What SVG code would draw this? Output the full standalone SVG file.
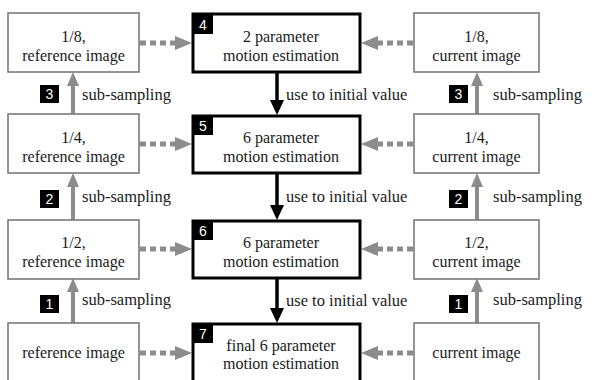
<svg xmlns="http://www.w3.org/2000/svg" width="592" height="380" viewBox="0 0 592 380" font-family="Liberation Serif" font-size="16">
<defs>
  <polygon id="hr" points="-17,-7 0,0 -17,7" fill="#8c8c8c"/>
  <polygon id="hl" points="17,-7 0,0 17,7" fill="#8c8c8c"/>
  <polygon id="hu" points="-6,14 0,0 6,14" fill="#8c8c8c"/>
  <polygon id="hd" points="-7,-15 0,0 7,-15" fill="#000"/>
</defs>
<rect width="592" height="380" fill="#fff"/>
<g id="connectors">
  <g stroke="#8c8c8c" stroke-width="5" stroke-dasharray="6 4" fill="none">
    <line x1="140" y1="43" x2="176" y2="43"/><line x1="140" y1="144" x2="176" y2="144"/>
    <line x1="140" y1="249" x2="176" y2="249"/><line x1="140" y1="353" x2="176" y2="353"/>
    <line x1="413" y1="43" x2="377" y2="43"/><line x1="413" y1="144" x2="377" y2="144"/>
    <line x1="413" y1="249" x2="377" y2="249"/><line x1="413" y1="353" x2="377" y2="353"/>
  </g>
  <use href="#hr" x="192" y="43"/><use href="#hr" x="192" y="144"/><use href="#hr" x="192" y="249"/><use href="#hr" x="192" y="353"/>
  <use href="#hl" x="361" y="43"/><use href="#hl" x="361" y="144"/><use href="#hl" x="361" y="249"/><use href="#hl" x="361" y="353"/>
  <g stroke="#8c8c8c" stroke-width="4">
    <line x1="73" y1="115" x2="73" y2="84"/><line x1="73" y1="220" x2="73" y2="185"/><line x1="73" y1="323" x2="73" y2="290"/>
    <line x1="477" y1="115" x2="477" y2="84"/><line x1="477" y1="220" x2="477" y2="185"/><line x1="477" y1="323" x2="477" y2="290"/>
  </g>
  <use href="#hu" x="73" y="72"/><use href="#hu" x="73" y="173"/><use href="#hu" x="73" y="278"/>
  <use href="#hu" x="477" y="72"/><use href="#hu" x="477" y="173"/><use href="#hu" x="477" y="278"/>
  <g stroke="#000" stroke-width="3.5">
    <line x1="277" y1="73" x2="277" y2="102"/><line x1="277" y1="174" x2="277" y2="207"/><line x1="277" y1="279" x2="277" y2="310"/>
  </g>
  <use href="#hd" x="277" y="115"/><use href="#hd" x="277" y="220"/><use href="#hd" x="277" y="323"/>
  <g fill="#1a1a1a" font-size="16.5">
    <text x="286" y="100">use to initial value</text>
    <text x="286" y="202">use to initial value</text>
    <text x="286" y="306">use to initial value</text>
    <text x="82" y="100">sub-sampling</text>
    <text x="82" y="202">sub-sampling</text>
    <text x="82" y="305">sub-sampling</text>
    <text x="493" y="100">sub-sampling</text>
    <text x="493" y="202">sub-sampling</text>
    <text x="493" y="305">sub-sampling</text>
  </g>
  <g fill="#000">
    <rect x="40" y="85" width="19" height="18"/><rect x="40" y="190" width="19" height="18"/><rect x="40" y="295" width="19" height="18"/>
    <rect x="449" y="85" width="19" height="18"/><rect x="449" y="190" width="19" height="18"/><rect x="449" y="295" width="19" height="18"/>
  </g>
  <g fill="#fff" font-family="Liberation Sans" font-size="14" text-anchor="middle">
    <text x="49.5" y="99">3</text><text x="49.5" y="204">2</text><text x="49.5" y="309">1</text>
    <text x="458.5" y="99">3</text><text x="458.5" y="204">2</text><text x="458.5" y="309">1</text>
  </g>
</g>
<g fill="#fff" stroke="#7a7a7a" stroke-width="1.6">
<g id="ref8"><rect x="8" y="13" width="131" height="59"/><g fill="#1a1a1a" stroke="none" text-anchor="middle"><text x="73.5" y="42">1/8,</text><text x="73.5" y="61">reference image</text></g></g>
<g id="ref4"><rect x="8" y="114" width="131" height="59"/><g fill="#1a1a1a" stroke="none" text-anchor="middle"><text x="73.5" y="143">1/4,</text><text x="73.5" y="162">reference image</text></g></g>
<g id="ref2"><rect x="8" y="220" width="131" height="59"/><g fill="#1a1a1a" stroke="none" text-anchor="middle"><text x="73.5" y="248">1/2,</text><text x="73.5" y="267">reference image</text></g></g>
<g id="ref"><rect x="8" y="323" width="131" height="62"/><g fill="#1a1a1a" stroke="none" text-anchor="middle"><text x="73.5" y="358">reference image</text></g></g>
<g id="cur8"><rect x="414" y="13" width="125" height="59"/><g fill="#1a1a1a" stroke="none" text-anchor="middle"><text x="476.5" y="42">1/8,</text><text x="476.5" y="61">current image</text></g></g>
<g id="cur4"><rect x="414" y="114" width="125" height="59"/><g fill="#1a1a1a" stroke="none" text-anchor="middle"><text x="476.5" y="143">1/4,</text><text x="476.5" y="162">current image</text></g></g>
<g id="cur2"><rect x="414" y="220" width="125" height="59"/><g fill="#1a1a1a" stroke="none" text-anchor="middle"><text x="476.5" y="248">1/2,</text><text x="476.5" y="267">current image</text></g></g>
<g id="cur"><rect x="414" y="323" width="125" height="62"/><g fill="#1a1a1a" stroke="none" text-anchor="middle"><text x="476.5" y="358">current image</text></g></g>
</g>
<g id="me2"><rect x="193" y="14" width="167" height="58" fill="#fff" stroke="#000" stroke-width="3"/><rect x="193" y="14" width="20" height="20"/><text x="203" y="30" fill="#fff" font-family="Liberation Sans" font-size="14" text-anchor="middle">4</text><g fill="#1a1a1a" text-anchor="middle"><text x="281" y="42">2 parameter</text><text x="281" y="61">motion estimation</text></g></g>
<g id="me6a"><rect x="193" y="116" width="167" height="57" fill="#fff" stroke="#000" stroke-width="3"/><rect x="193" y="116" width="20" height="19"/><text x="203" y="131" fill="#fff" font-family="Liberation Sans" font-size="14" text-anchor="middle">5</text><g fill="#1a1a1a" text-anchor="middle"><text x="281" y="143">6 parameter</text><text x="281" y="162">motion estimation</text></g></g>
<g id="me6b"><rect x="193" y="221" width="167" height="57" fill="#fff" stroke="#000" stroke-width="3"/><rect x="193" y="221" width="20" height="19"/><text x="203" y="236" fill="#fff" font-family="Liberation Sans" font-size="14" text-anchor="middle">6</text><g fill="#1a1a1a" text-anchor="middle"><text x="281" y="248">6 parameter</text><text x="281" y="267">motion estimation</text></g></g>
<g id="me6f"><rect x="193" y="324" width="167" height="62" fill="#fff" stroke="#000" stroke-width="3"/><rect x="193" y="324" width="20" height="19"/><text x="203" y="339" fill="#fff" font-family="Liberation Sans" font-size="14" text-anchor="middle">7</text><g fill="#1a1a1a" text-anchor="middle"><text x="281" y="351">final 6 parameter</text><text x="281" y="369">motion estimation</text></g></g>
</svg>
